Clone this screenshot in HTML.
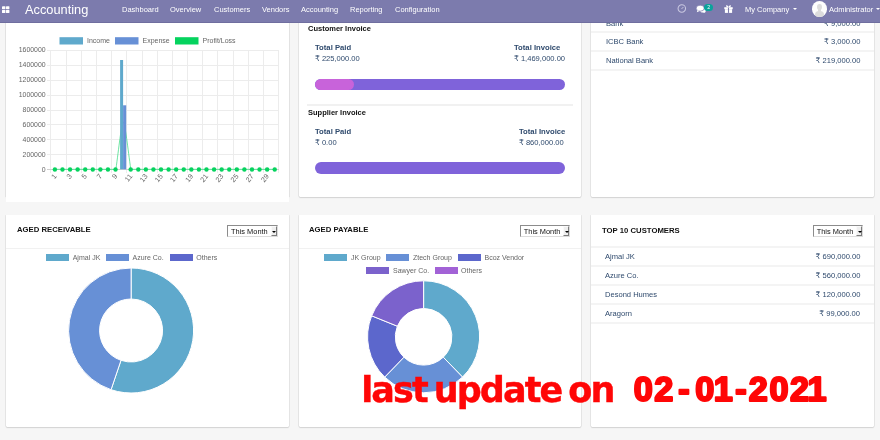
<!DOCTYPE html>
<html>
<head>
<meta charset="utf-8">
<title>Accounting</title>
<style>
*{box-sizing:border-box;margin:0;padding:0}
html,body{width:880px;height:440px;overflow:hidden}
body{background:#f6f6f6;font-family:"Liberation Sans","DejaVu Sans",sans-serif;position:relative;color:#2f4a6d}
.abs{position:absolute;white-space:nowrap}
/* navbar */
#nav{position:absolute;left:0;top:0;width:880px;height:23px;background:#7c7bad;color:#fff;z-index:10;border-bottom:1px solid #6f6e9f}
#nav .brand{position:absolute;left:25px;top:2px;font-size:12.8px;line-height:16px;color:#fff}
#nav .mi{position:absolute;top:5.3px;font-size:8px;line-height:10px;color:#fff;transform:scaleX(.9375);transform-origin:0 0}
/* cards */
.card{position:absolute;background:#fff;border-radius:0 0 1.5px 1.5px;box-shadow:-1px 0 0 rgba(0,0,0,.055),1px 0 0 rgba(0,0,0,.055),0 1px 0 rgba(0,0,0,.06),0 1px 1.5px rgba(0,0,0,.09)}
.t{position:absolute;white-space:nowrap;font-size:8px;line-height:10px;transform:scaleX(.945);transform-origin:0 0;margin-top:.6px}
.t.r{transform-origin:100% 0}
.t.b{transform:scaleX(.96)}
.t.b.ci{transform:scaleX(.9265)}
.t.b.u{transform:scaleX(1.005);margin-top:.3px}
.b{font-weight:bold}
.hd{color:#111}
.hr{position:absolute;height:1px;background:#f1f1f1}
.hr.w{height:2px;background:#f4f4f4}
.bar{position:absolute;height:11.5px;border-radius:6px;background:#7f63da;overflow:hidden}
.bar i{position:absolute;left:0;top:0;height:100%;background:#c863da;border-radius:6px}
.sel{position:absolute;width:50.7px;height:12.3px;background:#fff;border:1px solid #8c8c8c;border-right-color:#dcdcdc;border-bottom-color:#dcdcdc;font-size:7.4px;line-height:12px;color:#111;padding-left:3.1px;white-space:nowrap}
.sel b{position:absolute;right:0;top:0;width:6px;height:10.3px;background:#efefef;border:.8px solid #fafafa;border-right-color:#7d7d7d;border-bottom-color:#7d7d7d}
.sel b:after{content:"";position:absolute;left:.4px;top:3.6px;border-left:2px solid transparent;border-right:2px solid transparent;border-top:2.3px solid #000}
.lg{position:absolute;height:7px}
.lt{position:absolute;white-space:nowrap;font-size:7px;line-height:9px;color:#666;margin-top:-.3px}
.stamp{position:absolute;font-family:"DejaVu Sans","Liberation Sans",sans-serif;font-weight:bold;font-size:35px;line-height:40px;color:#ff0606;white-space:pre;-webkit-text-stroke:.4px #ff0606;z-index:20;transform-origin:0 0}
</style>
</head>
<body>

<!-- NAVBAR -->
<div id="nav">
  <svg style="position:absolute;left:2.3px;top:5.9px" width="7.6" height="7.6" viewBox="0 0 8 8"><rect x="0" y="0.2" width="3.6" height="3.3" rx=".5" fill="#fff"/><rect x="4.2" y="0.2" width="3.6" height="3.3" rx=".5" fill="#fff"/><rect x="0" y="4.1" width="3.6" height="3.3" rx=".5" fill="#fff"/><rect x="4.2" y="4.1" width="3.6" height="3.3" rx=".5" fill="#fff"/></svg>
  <div class="brand">Accounting</div>
  <div class="mi" style="left:121.7px">Dashboard</div>
  <div class="mi" style="left:170.2px">Overview</div>
  <div class="mi" style="left:213.5px">Customers</div>
  <div class="mi" style="left:261.7px">Vendors</div>
  <div class="mi" style="left:301px">Accounting</div>
  <div class="mi" style="left:350.4px">Reporting</div>
  <div class="mi" style="left:394.8px">Configuration</div>
  <!-- clock -->
  <svg style="position:absolute;left:677px;top:4.2px" width="10" height="10" viewBox="0 0 10 10"><circle cx="4.8" cy="4.5" r="3.75" fill="none" stroke="#c9c8e1" stroke-width="1.05"/><path d="M4.6 4.9 L6.3 3.1" stroke="#d5d4e8" stroke-width="0.9" fill="none"/></svg>
  <!-- chat -->
  <svg style="position:absolute;left:696px;top:5.2px" width="11" height="9" viewBox="0 0 11 9"><ellipse cx="7" cy="5.2" rx="3" ry="2.3" fill="#fff"/><path d="M8.2 6.8 L9.6 8 L6.9 7.3 Z" fill="#fff"/><ellipse cx="4.2" cy="3.2" rx="4" ry="3" fill="#fff" stroke="#7c7bad" stroke-width=".7"/><path d="M1.5 5 L0.8 7.2 L3.6 5.9 Z" fill="#fff"/></svg>
  <div style="position:absolute;left:704.3px;top:3.6px;width:8.7px;height:7.6px;border-radius:3.8px;background:#0aa39b;color:#eefaf9;font-size:5.4px;line-height:7.6px;text-align:center">2</div>
  <!-- gift -->
  <svg style="position:absolute;left:724px;top:5px" width="9" height="8" viewBox="0 0 9 8"><rect x="0.3" y="2.2" width="8.4" height="2" fill="#fff"/><rect x="0.9" y="4.2" width="7.2" height="3.7" fill="#fff"/><rect x="3.95" y="2.4" width="1.1" height="5.5" fill="#7c7bad"/><path d="M4.5 2.2 C2 2.4 1.3 0.3 2.7 0.2 C3.7 0.2 4.3 1.2 4.5 2.2 C4.7 1.2 5.3 0.2 6.3 0.2 C7.7 0.3 7 2.4 4.5 2.2Z" fill="#fff"/></svg>
  <div class="mi" style="left:744.5px">My Company</div>
  <div style="position:absolute;left:792.9px;top:8.4px;border-left:2.1px solid transparent;border-right:2.1px solid transparent;border-top:2.4px solid #fff"></div>
  <div style="position:absolute;left:811.6px;top:.9px;width:15.3px;height:15.9px;border-radius:50%;background:#fdfdfd;overflow:hidden">
    <div style="position:absolute;left:5.3px;top:3px;width:4.8px;height:6.2px;border-radius:50%;background:#dcdcdc"></div>
    <div style="position:absolute;left:6.4px;top:8px;width:2.6px;height:3px;background:#dcdcdc"></div>
    <div style="position:absolute;left:3.2px;top:10.2px;width:9px;height:8px;border-radius:45% 45% 0 0;background:#dcdcdc"></div>
  </div>
  <div class="mi" style="left:829.2px">Administrator</div>
  <div style="position:absolute;left:876.4px;top:8.4px;border-left:2.1px solid transparent;border-right:2.1px solid transparent;border-top:2.4px solid #fff"></div>
</div>

<!-- CARD 1 : bar chart -->
<div class="card" style="left:6px;top:10px;width:283px;height:186.5px;border-radius:0"></div>
<div style="position:absolute;left:6px;top:180px;width:282.7px;height:21.8px;background:#fff"></div>
<svg class="abs" style="left:0;top:23px" width="295" height="185" viewBox="0 23 295 185" font-family="Liberation Sans, sans-serif">
  <!-- legend -->
  <rect x="59.5" y="37.2" width="23.5" height="7.3" fill="#5fa9cc"/>
  <text x="87" y="43.1" font-size="7" fill="#666">Income</text>
  <rect x="115" y="37.2" width="23.5" height="7.3" fill="#6790d6"/>
  <text x="142.5" y="43.1" font-size="7" fill="#666">Expense</text>
  <rect x="175" y="37.2" width="23.5" height="7.3" fill="#05d35e"/>
  <text x="202.5" y="43.1" font-size="7" fill="#666">Profit/Loss</text>
  <!-- grid -->
  <g stroke="#ececec" stroke-width="1" shape-rendering="crispEdges">
    <path d="M46.5 50.5H278.5M46.5 65.5H278.5M46.5 80.5H278.5M46.5 95.5H278.5M46.5 110.5H278.5M46.5 124.5H278.5M46.5 139.5H278.5M46.5 154.5H278.5"/>
    <path d="M50.5 50V173M66.5 50V173M81.5 50V173M96.5 50V173M111.5 50V173M126.5 50V173M142.5 50V173M157.5 50V173M172.5 50V173M187.5 50V173M202.5 50V173M217.5 50V173M233.5 50V173M248.5 50V173M263.5 50V173M278.5 50V173"/>
  </g>
  <path d="M46.5 169.5H278.5" stroke="#cfcfcf" stroke-width="1" shape-rendering="crispEdges"/>
  <!-- y labels -->
  <g font-size="6.9" fill="#666" text-anchor="end">
    <text x="45.6" y="52.4">1600000</text>
    <text x="45.6" y="67.3">1400000</text>
    <text x="45.6" y="82.2">1200000</text>
    <text x="45.6" y="97.1">1000000</text>
    <text x="45.6" y="112.0">800000</text>
    <text x="45.6" y="126.9">600000</text>
    <text x="45.6" y="141.8">400000</text>
    <text x="45.6" y="156.7">200000</text>
    <text x="45.6" y="171.6">0</text>
  </g>
  <!-- line -->
  <path d="M55 169.3 H115.9 C118.6 150 121.6 122 123.3 122 C125 122 128 150 130.8 169.3 H275.4" fill="none" stroke="#3ddc84" stroke-width="0.75"/>
  <!-- bars -->
  <rect x="120.1" y="60" width="3" height="109.3" fill="#5fa9cc"/>
  <rect x="123.1" y="105.3" width="3.1" height="64" fill="#6790d6"/>
  <!-- points -->
  <g fill="#05d35e"><circle cx="54.89" cy="169.5" r="2.2"/><circle cx="62.47" cy="169.5" r="2.2"/><circle cx="70.05" cy="169.5" r="2.2"/><circle cx="77.63" cy="169.5" r="2.2"/><circle cx="85.21" cy="169.5" r="2.2"/><circle cx="92.79" cy="169.5" r="2.2"/><circle cx="100.37" cy="169.5" r="2.2"/><circle cx="107.95" cy="169.5" r="2.2"/><circle cx="115.53" cy="169.5" r="2.2"/><circle cx="130.69" cy="169.5" r="2.2"/><circle cx="138.27" cy="169.5" r="2.2"/><circle cx="145.85" cy="169.5" r="2.2"/><circle cx="153.43" cy="169.5" r="2.2"/><circle cx="161.01" cy="169.5" r="2.2"/><circle cx="168.59" cy="169.5" r="2.2"/><circle cx="176.17" cy="169.5" r="2.2"/><circle cx="183.75" cy="169.5" r="2.2"/><circle cx="191.33" cy="169.5" r="2.2"/><circle cx="198.91" cy="169.5" r="2.2"/><circle cx="206.49" cy="169.5" r="2.2"/><circle cx="214.07" cy="169.5" r="2.2"/><circle cx="221.65" cy="169.5" r="2.2"/><circle cx="229.23" cy="169.5" r="2.2"/><circle cx="236.81" cy="169.5" r="2.2"/><circle cx="244.39" cy="169.5" r="2.2"/><circle cx="251.97" cy="169.5" r="2.2"/><circle cx="259.55" cy="169.5" r="2.2"/><circle cx="267.13" cy="169.5" r="2.2"/><circle cx="274.71" cy="169.5" r="2.2"/></g>
  <!-- x labels -->
  <g font-size="7.2" fill="#666" text-anchor="end"><text transform="translate(57.09,176.5) rotate(-50)">1</text><text transform="translate(72.25,176.5) rotate(-50)">3</text><text transform="translate(87.41,176.5) rotate(-50)">5</text><text transform="translate(102.57,176.5) rotate(-50)">7</text><text transform="translate(117.73,176.5) rotate(-50)">9</text><text transform="translate(132.89,176.5) rotate(-50)">11</text><text transform="translate(148.05,176.5) rotate(-50)">13</text><text transform="translate(163.21,176.5) rotate(-50)">15</text><text transform="translate(178.37,176.5) rotate(-50)">17</text><text transform="translate(193.53,176.5) rotate(-50)">19</text><text transform="translate(208.69,176.5) rotate(-50)">21</text><text transform="translate(223.85,176.5) rotate(-50)">23</text><text transform="translate(239.01,176.5) rotate(-50)">25</text><text transform="translate(254.17,176.5) rotate(-50)">27</text><text transform="translate(269.33,176.5) rotate(-50)">29</text></g>
</svg>

<!-- CARD 2 : invoices -->
<div class="card" style="left:299px;top:10px;width:282px;height:186.5px"></div>
<div class="t b hd ci" style="left:307.6px;top:23.6px;font-size:8.1px">Customer Invoice</div>
<div class="t b" style="left:315px;top:42.1px">Total Paid</div>
<div class="t" style="left:315px;top:53.1px">₹ 225,000.00</div>
<div class="t b" style="left:514.3px;top:42.1px">Total Invoice</div>
<div class="t" style="left:514.3px;top:53.1px">₹ 1,469,000.00</div>
<div class="bar" style="left:315px;top:78.5px;width:250px"><i style="width:38.5px"></i></div>
<div class="hr" style="left:307.3px;top:104px;width:266px;height:1.5px"></div>
<div class="t b hd ci" style="left:307.6px;top:107.9px;font-size:8.1px">Supplier Invoice</div>
<div class="t b" style="left:315px;top:126.3px">Total Paid</div>
<div class="t" style="left:315px;top:137.3px">₹ 0.00</div>
<div class="t b" style="left:519px;top:126.3px">Total Invoice</div>
<div class="t" style="left:519px;top:137.3px">₹ 860,000.00</div>
<div class="bar" style="left:315px;top:162.3px;width:250px"></div>

<!-- CARD 3 : banks -->
<div class="card" style="left:591px;top:10px;width:283px;height:186.5px"></div>
<div class="t" style="left:605.6px;top:18.1px">Bank</div>
<div class="t r" style="right:20px;top:18.1px">₹ 9,000.00</div>
<div class="hr w" style="left:591px;top:31px;width:283px"></div>
<div class="t" style="left:605.6px;top:36.2px">ICBC Bank</div>
<div class="t r" style="right:20px;top:36.2px">₹ 3,000.00</div>
<div class="hr w" style="left:591px;top:50px;width:283px"></div>
<div class="t" style="left:605.6px;top:55.4px">National Bank</div>
<div class="t r" style="right:20px;top:55.4px">₹ 219,000.00</div>
<div class="hr w" style="left:591px;top:69px;width:283px"></div>

<!-- CARD 4 : aged receivable -->
<div class="card" style="left:6px;top:215px;width:283px;height:211.6px"></div>
<div class="t b hd u" style="left:17px;top:225.2px;font-size:7.7px">AGED RECEIVABLE</div>
<div class="sel" style="left:227px;top:225px">This Month<b></b></div>
<div class="hr" style="left:6px;top:248px;width:283px"></div>
<div class="lg" style="left:45.5px;top:254.4px;width:23px;background:#5fa9cc"></div>
<div class="lt" style="left:72.7px;top:253.2px">Ajmal JK</div>
<div class="lg" style="left:105.5px;top:254.4px;width:23px;background:#6790d6"></div>
<div class="lt" style="left:132.5px;top:253.2px">Azure Co.</div>
<div class="lg" style="left:169.5px;top:254.4px;width:23px;background:#5c67cc"></div>
<div class="lt" style="left:196.3px;top:253.2px">Others</div>
<svg class="abs" style="left:66px;top:266px" width="130" height="130" viewBox="66 266 130 130">
  <g stroke="#fff" stroke-width="1"><path d="M131.10 268.00 A62.5 62.5 0 1 1 111.06 389.70 L121.00 360.34 A31.5 31.5 0 1 0 131.10 299.00 Z" fill="#5fa9cc"/><path d="M111.06 389.70 A62.5 62.5 0 0 1 131.10 268.00 L131.10 299.00 A31.5 31.5 0 0 0 121.00 360.34 Z" fill="#6790d6"/></g>
</svg>

<!-- CARD 5 : aged payable -->
<div class="card" style="left:299px;top:215px;width:282px;height:211.6px"></div>
<div class="t b hd u" style="left:309.3px;top:225.2px;font-size:7.7px">AGED PAYABLE</div>
<div class="sel" style="left:519.7px;top:225px">This Month<b></b></div>
<div class="hr" style="left:299px;top:248px;width:282px"></div>
<div class="lg" style="left:324px;top:254.4px;width:23px;background:#5fa9cc"></div>
<div class="lt" style="left:351px;top:253.2px">JK Group</div>
<div class="lg" style="left:386.3px;top:254.4px;width:23px;background:#6790d6"></div>
<div class="lt" style="left:413px;top:253.2px">Ztech Group</div>
<div class="lg" style="left:457.5px;top:254.4px;width:23px;background:#5c67cc"></div>
<div class="lt" style="left:484.5px;top:253.2px">Bcoz Vendor</div>
<div class="lg" style="left:366px;top:267px;width:23px;background:#7b62cc"></div>
<div class="lt" style="left:393px;top:265.8px">Sawyer Co.</div>
<div class="lg" style="left:434.5px;top:267px;width:23px;background:#a262d6"></div>
<div class="lt" style="left:461px;top:265.8px">Others</div>
<svg class="abs" style="left:360px;top:276px" width="130" height="125" viewBox="360 276 130 125">
  <g stroke="#fff" stroke-width="1"><path d="M423.60 280.80 A56 56 0 0 1 462.50 377.08 L443.26 357.16 A28.3 28.3 0 0 0 423.60 308.50 Z" fill="#5fa9cc"/><path d="M462.50 377.08 A56 56 0 0 1 384.70 377.08 L403.94 357.16 A28.3 28.3 0 0 0 443.26 357.16 Z" fill="#6790d6"/><path d="M384.70 377.08 A56 56 0 0 1 371.68 315.82 L397.36 326.20 A28.3 28.3 0 0 0 403.94 357.16 Z" fill="#5c67cc"/><path d="M371.68 315.82 A56 56 0 0 1 423.60 280.80 L423.60 308.50 A28.3 28.3 0 0 0 397.36 326.20 Z" fill="#7b62cc"/></g>
</svg>

<!-- CARD 6 : top 10 customers -->
<div class="card" style="left:591px;top:215px;width:283px;height:211.6px"></div>
<div class="t b hd u" style="left:602px;top:225.8px;font-size:7.7px">TOP 10 CUSTOMERS</div>
<div class="sel" style="left:812.6px;top:225px">This Month<b></b></div>
<div class="hr w" style="left:591px;top:246px;width:283px"></div>
<div class="t" style="left:605.4px;top:251.4px">Ajmal JK</div>
<div class="t r" style="right:20px;top:251.4px">₹ 690,000.00</div>
<div class="hr w" style="left:591px;top:265px;width:283px"></div>
<div class="t" style="left:605.4px;top:270.5px">Azure Co.</div>
<div class="t r" style="right:20px;top:270.5px">₹ 560,000.00</div>
<div class="hr w" style="left:591px;top:284px;width:283px"></div>
<div class="t" style="left:605.4px;top:289.6px">Desond Humes</div>
<div class="t r" style="right:20px;top:289.6px">₹ 120,000.00</div>
<div class="hr w" style="left:591px;top:303px;width:283px"></div>
<div class="t" style="left:605.4px;top:308.7px">Aragorn</div>
<div class="t r" style="right:20px;top:308.7px">₹ 99,000.00</div>
<div class="hr w" style="left:591px;top:322px;width:283px"></div>

<div class="stamp" id="s1" style="left:361.2px;top:369.6px;letter-spacing:-1.9px;word-spacing:-3.4px">last update on</div>
<svg class="abs" style="left:620px;top:360px;z-index:20" width="215" height="56" viewBox="620 360 215 56"><text id="s2" y="401" x="633.8 654.2 678.3 695.2 713.8 735.3 748.7 769.6 790.0 807.6" font-family="Liberation Sans, sans-serif" font-weight="bold" font-size="34.2" fill="#ff0606" stroke="#ff0606" stroke-width="2.2" stroke-linejoin="round">02-01-2021</text></svg>

</body>
</html>
